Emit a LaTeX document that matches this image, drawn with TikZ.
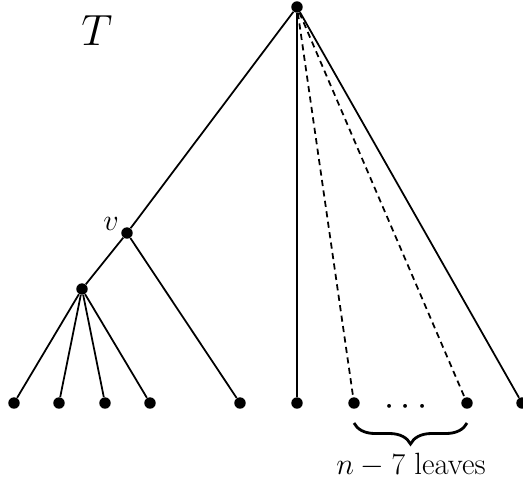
\documentclass[tikz,border=0pt]{standalone}
\usepackage{amsmath}
\usetikzlibrary{decorations.pathreplacing}

\tikzset{
  vert/.style={circle, fill, inner sep=0pt, minimum size=6.5pt},
  edge/.style={line width=1pt},
  dedge/.style={line width=1pt, dashed, dash pattern=on 3.5pt off 2.5pt}
}

\begin{document}
\begin{tikzpicture}[x=0.02cm, y=-0.02cm]
    \useasboundingbox (0,0) rectangle (523,481);
    \clip (0,0) rectangle (523,481);

    % Inner vertices
    \node[vert] (r) at (297,7) {};
    \node[vert] (v) at (127,233) {};
    \node[vert] (w) at (82,289) {};

    % Leaves
    \foreach \name/\x in {l1/14, l2/59, l3/105, l4/150, l5/240, l6/297, l7/354, l8/467, l9/522}
        \node[vert] (\name) at (\x,403) {};

    % Edges
    \draw[edge] (r) -- (v);
    \draw[edge] (v) -- (w);
    \draw[edge] (v) -- (l5);
    \foreach \name in {l1, l2, l3, l4}
        \draw[edge] (w) -- (\name);
    \draw[edge] (r) -- (l6);
    \draw[edge] (r) -- (l9);
    \draw[dedge] (r) -- (l7);
    \draw[dedge] (r) -- (l8);

    % Labels
    \node at (97,31) {\fontsize{32}{36}\selectfont $T$};
    \node[anchor=south east, inner sep=1pt] at (v.west) {\fontsize{18}{21}\selectfont $v$};
    \node (dots) at (409,407) {\fontsize{20}{24}\selectfont $\cdots$};
    \draw[decorate, decoration={brace, mirror, amplitude=0.42cm}, line width=1.6pt]
        (354,423) -- (467,423);
    \node (lbl) at (411,465) {\fontsize{17.5}{21}\selectfont $n-7$ leaves};
\end{tikzpicture}
\end{document}
